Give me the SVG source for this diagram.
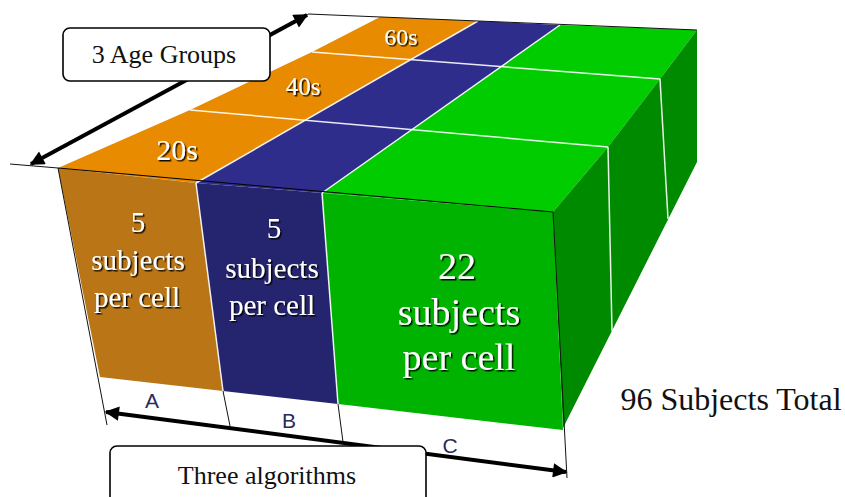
<svg xmlns="http://www.w3.org/2000/svg" width="845" height="497" viewBox="0 0 845 497">
<style>
.edge{stroke:#000;stroke-width:1;fill:none}
.wl{stroke:#fff;stroke-width:1.5;fill:none;opacity:0.9}
.thin{stroke:#111;stroke-width:1;fill:none}
.arr{stroke:#000;stroke-width:4;fill:none;marker-start:url(#ah);marker-end:url(#ah)}
.face{font-family:"Liberation Serif","Times New Roman",serif;fill:#fff;text-anchor:middle;filter:url(#sh)}
.lbl{font-family:"Liberation Sans",Arial,sans-serif;font-size:21px;fill:#2a2a5a;text-anchor:middle}
.box{fill:#fff;stroke:#000;stroke-width:1.6}
.btxt{font-family:"Liberation Serif","Times New Roman",serif;fill:#111;text-anchor:middle}
</style>
<defs>
<marker id="ah" viewBox="0 0 10 10" refX="9" refY="5" markerWidth="4.5" markerHeight="3.6" orient="auto-start-reverse" markerUnits="strokeWidth">
<path d="M0,0 L10,5 L0,10 Z" fill="#000"/>
</marker>
<filter id="sh" x="-10%" y="-10%" width="130%" height="140%">
<feDropShadow dx="1.5" dy="1.5" stdDeviation="0.4" flood-color="#000" flood-opacity="0.9"/>
</filter>
</defs>

<g id="cube">
<polygon fill="#E88B00" points="58,168 196,183 478,21 380,17 312,52 190,110"/>
<polygon fill="#2E2D8C" points="196,183 322,193 560,25 478,21"/>
<polygon fill="#00CC00" points="322,193 553,212 608,147 660,79 697,30 560,25"/>
<polygon fill="#008A00" points="553,212 608,147 660,79 697,30 697,162 563,428"/>
<polygon fill="#B97516" points="58,168 196,183 223,391 100,377"/>
<polygon fill="#25246E" points="196,183 322,193 338,404 223,391"/>
<polygon fill="#00B300" points="322,193 553,212 563,430 338,404"/>
<line class="wl" x1="190" y1="110" x2="608" y2="147"/>
<line class="wl" x1="312" y1="52" x2="660" y2="79"/>
<line class="wl" x1="196" y1="183" x2="478" y2="21" stroke-width="1"/>
<line class="wl" x1="322" y1="193" x2="560" y2="25" stroke-width="1"/>
<line class="wl" x1="608" y1="147" x2="612" y2="331"/>
<line class="wl" x1="660" y1="79" x2="668" y2="219"/>
<line class="wl" x1="196" y1="183" x2="223" y2="391" stroke-width="1"/>
<line class="wl" x1="322" y1="193" x2="338" y2="404" stroke-width="1"/>
<polyline class="edge" points="58,168 553,212"/>
<line class="thin" x1="308" y1="14" x2="697" y2="30"/>
<line class="thin" x1="10" y1="164" x2="58" y2="168"/>
<line class="thin" x1="58" y1="168" x2="107" y2="425"/>
<line class="thin" x1="223" y1="391" x2="230" y2="426"/>
<line class="thin" x1="338" y1="404" x2="343" y2="442"/>
<line class="thin" x1="553" y1="212" x2="567" y2="478"/>
</g>

<g id="age-labels">
<text class="face" x="177" y="160" font-size="30">20s</text>
<text class="face" x="303" y="95" font-size="25">40s</text>
<text class="face" x="401" y="45" font-size="24">60s</text>
</g>

<g id="cell-a">
<text class="face" font-size="29" x="138" y="232">5</text>
<text class="face" font-size="29" x="138" y="270">subjects</text>
<text class="face" font-size="29" x="137" y="307">per cell</text>
<text class="lbl" x="152" y="408">A</text>
</g>
<g id="cell-b">
<text class="face" font-size="29" x="274" y="238">5</text>
<text class="face" font-size="29" x="272" y="278">subjects</text>
<text class="face" font-size="29" x="272" y="315">per cell</text>
<text class="lbl" x="289" y="428">B</text>
</g>
<g id="cell-c">
<text class="face" font-size="38" x="457" y="279">22</text>
<text class="face" font-size="38" x="459" y="325">subjects</text>
<text class="face" font-size="38" x="459" y="370">per cell</text>
<text class="lbl" x="450" y="453">C</text>
</g>

<g id="connectors">
<line class="arr" x1="31" y1="164" x2="307" y2="15"/>
<line class="arr" x1="106" y1="412" x2="566" y2="472"/>
</g>

<g id="age-box">
<rect class="box" x="63" y="28" width="207" height="53" rx="7"/>
<text class="btxt" x="164" y="63" font-size="26">3 Age Groups</text>
</g>

<g id="algo-box">
<rect class="box" x="110" y="446" width="316" height="62" rx="7"/>
<text class="btxt" x="267" y="484" font-size="26">Three algorithms</text>
</g>

<g id="total">
<text class="btxt" x="731" y="410" font-size="32">96 Subjects Total</text>
</g>
</svg>
